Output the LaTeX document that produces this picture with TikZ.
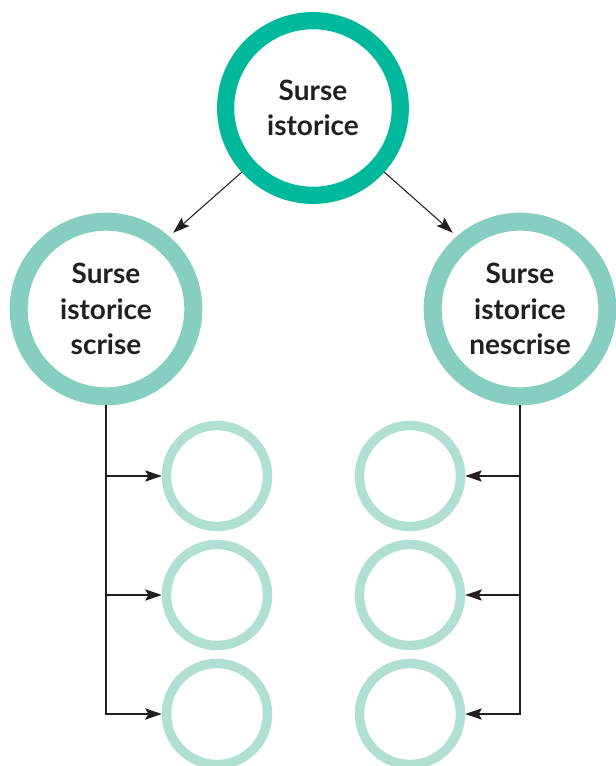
\documentclass[tikz,border=0pt]{standalone}
\usepackage{fontspec}
\setmainfont{Lato}
\usepackage{tikz}
\usetikzlibrary{arrows.meta, positioning, calc}
\usepackage{xcolor}

\definecolor{ringtop}{HTML}{00B89C}
\definecolor{ringmid}{HTML}{86CFC0}
\definecolor{ringsmall}{HTML}{B2DFD4}
\definecolor{inkdark}{HTML}{231F20}

\begin{document}
\begin{tikzpicture}[x=0.75pt, y=-0.75pt,
    bigring/.style={circle, draw=#1, line width=12.9pt, minimum size=131pt, inner sep=0pt,
      align=center, text=inkdark, font=\fontsize{21}{26.5}\selectfont\bfseries},
    smallring/.style={circle, draw=ringsmall, line width=7.1pt, minimum size=75.8pt, inner sep=0pt},
    arr/.style={-{Stealth[length=12.5pt, width=8.5pt, inset=2.5pt]}, line width=0.8pt, inkdark}]
      \useasboundingbox (0, 0) rectangle (615, 766);

      \node[bigring=ringtop] (top) at (313, 108) {Surse\\istorice};
      \node[bigring=ringmid, line width=13.5pt] (left) at (106, 309) {Surse\\istorice\\scrise};
      \node[bigring=ringmid, line width=13.5pt] (right) at (520, 309) {Surse\\istorice\\nescrise};

      \node[smallring] (l1) at (217, 476) {};
      \node[smallring] (l2) at (217, 595) {};
      \node[smallring] (l3) at (217, 714) {};
      \node[smallring] (r1) at (410, 476) {};
      \node[smallring] (r2) at (410, 595) {};
      \node[smallring] (r3) at (410, 714) {};

      \draw[arr, shorten >=4pt] (top.222) -- (left.49);
      \draw[arr, shorten >=4pt] (top.318) -- (right.131);

      \draw[arr] (left.south) |- (l3);
      \draw[arr] (left.south |- l1) -- (l1);
      \draw[arr] (left.south |- l2) -- (l2);

      \draw[arr] (right.south) |- (r3);
      \draw[arr] (right.south |- r1) -- (r1);
      \draw[arr] (right.south |- r2) -- (r2);

    \end{tikzpicture}
\end{document}
